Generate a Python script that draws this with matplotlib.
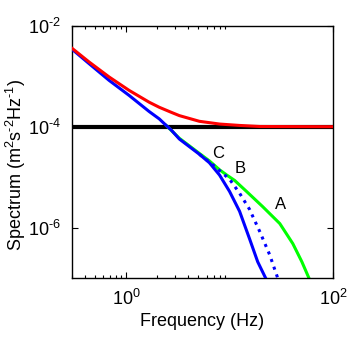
import matplotlib
matplotlib.use('Agg')
import matplotlib.pyplot as plt
from matplotlib.ticker import FixedLocator, FixedFormatter, NullLocator

plt.rcParams['font.family'] = ['Liberation Sans', 'DejaVu Sans']
plt.rcParams['mathtext.fontset'] = 'custom'
plt.rcParams['mathtext.rm'] = 'Liberation Sans'
plt.rcParams['mathtext.it'] = 'Liberation Sans'

HY = '\u2010'  # short hyphen for the exponents, like the reference

# values
f_blue = [0.292, 0.437, 0.684, 1.069, 1.67, 2.09, 2.45, 2.73, 3.27, 5.11, 6.38, 8.0, 10, 12.5, 15.6, 18.7, 22.3]
s_blue = [3.6e-3, 1.79e-3, 8.3e-4, 4.17e-4, 2.0e-4, 1.43e-4, 1.05e-4, 8.6e-5, 5.7e-5, 2.84e-5, 1.93e-5, 1.1e-5,
          5.2e-6, 2.1e-6, 6e-7, 2.1e-7, 1e-7]

f_dot = [5.11, 6.8, 10, 12.5, 15.6, 19.6, 24.4, 29.2]
s_dot = [2.84e-5, 1.8e-5, 9.1e-6, 4.8e-6, 2.3e-6, 8.3e-7, 2.9e-7, 1e-7]

f_green = [2.45, 3.27, 5.11, 6.38, 8.0, 9.4, 11.2, 14.6, 20.9, 30.6, 40.9, 50, 58.5]
s_green = [1.05e-4, 5.9e-5, 2.95e-5, 2.1e-5, 1.4e-5, 1.1e-5, 8.6e-6, 5.2e-6, 2.6e-6, 1.2e-6, 4.8e-7, 2.1e-7, 1e-7]

f_red = [0.292, 0.437, 0.684, 1.069, 1.67, 2.09, 2.73, 3.27, 5.11, 8.0, 12.5, 19.6, 100]
s_red = [3.75e-3, 1.93e-3, 9.7e-4, 5.25e-4, 3.06e-4, 2.43e-4, 1.93e-4, 1.66e-4, 1.28e-4, 1.13e-4, 1.06e-4, 1.01e-4, 1.0e-4]

noise_level = 1e-4
labels = [('C', 7.8, 3.0e-5), ('B', 12.8, 1.5e-5), ('A', 31, 2.9e-6)]

fig = plt.figure(figsize=(3.55, 3.38), dpi=100)
ax = fig.add_axes([0.203, 0.1775, 0.735, 0.746])

ax.axhline(noise_level, color='black', lw=3, zorder=1)
ax.plot(f_green, s_green, color='#00ff00', lw=2.2, zorder=2)
ax.plot(f_dot, s_dot, color='#0000ff', lw=2.2, ls=':', zorder=3)
ax.plot(f_blue, s_blue, color='#0000ff', lw=2.2, zorder=4)
ax.plot(f_red, s_red, color='#ff0000', lw=2.2, zorder=5)

for txt, x, y in labels:
  ax.text(x, y, txt, fontsize=12, ha='center', va='center')

ax.set_xscale('log')
ax.set_yscale('log')
ax.set_xlim(0.3, 100)
ax.set_ylim(1e-7, 1e-2)

ax.xaxis.set_major_locator(FixedLocator([1, 100]))
ax.xaxis.set_major_formatter(FixedFormatter([r'$\mathregular{10^{0}}$', r'$\mathregular{10^{2}}$']))
ax.xaxis.set_minor_locator(FixedLocator([0.3, 0.4, 0.5, 0.6, 0.7, 0.8, 0.9, 2, 3, 4, 5, 6, 7, 8, 9]))
ax.xaxis.set_minor_formatter(plt.NullFormatter())
ax.yaxis.set_major_locator(FixedLocator([1e-6, 1e-4, 1e-2]))
ax.yaxis.set_major_formatter(FixedFormatter(['$\\mathregular{10^{%s6}}$' % HY,
                                             '$\\mathregular{10^{%s4}}$' % HY,
                                             '$\\mathregular{10^{%s2}}$' % HY]))
ax.yaxis.set_minor_locator(NullLocator())

ax.tick_params(which='both', direction='in', top=True, right=True, width=0.8)
ax.tick_params(which='major', length=4, labelsize=13, pad=8)
ax.tick_params(which='minor', length=2.5)
for sp in ax.spines.values():
  sp.set_linewidth(1)

ax.set_xlabel('Frequency (Hz)', fontsize=13, labelpad=3)
ax.set_ylabel('Spectrum (m$^{2}$s$^{%s2}$Hz$^{%s1}$)' % (HY, HY), fontsize=13)
ax.yaxis.set_label_coords(-0.168, 0.45)

fig.savefig('out.png', dpi=100)
